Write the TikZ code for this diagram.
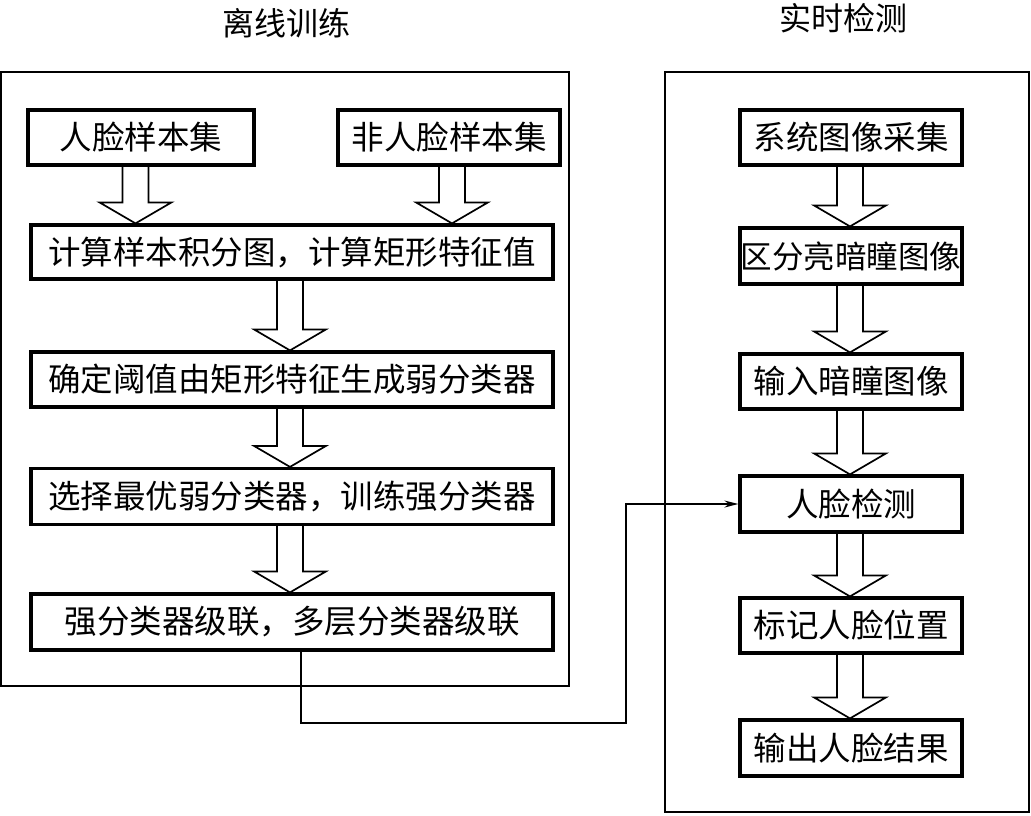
\documentclass[tikz,border=0pt]{standalone}
\usepackage{fontspec}
\newfontfamily\cjk{Noto Sans CJK SC}
\usetikzlibrary{arrows.meta,calc}
\tikzset{
  box/.style={draw, line width=3.2pt, inner sep=0pt, font=\cjk\fontsize{32.5}{32}\selectfont, anchor=center},
  frame/.style={draw, line width=1.6pt},
  blockarr/.style={draw, line width=1.7pt, line join=miter},
  link/.style={draw, line width=1.6pt, -{Stealth[length=14pt,width=7pt]}},
  title/.style={font=\cjk\fontsize{32}{32}\selectfont}
}
% #1 source node, #2 target node, #3 x position (pt)
\newcommand\blockarrow[3]{%
  \draw[blockarr] let \p1=(#1.south), \p2=(#2.north) in
    (#3pt-13pt,\y1) -- (#3pt-13pt,\y2+21pt) -- (#3pt-36pt,\y2+21pt) -- (#3pt,\y2)
    -- (#3pt+36pt,\y2+21pt) -- (#3pt+13pt,\y2+21pt) -- (#3pt+13pt,\y1);}
\begin{document}
\begin{tikzpicture}[x=1pt,y=-1pt]
\useasboundingbox (0,0) rectangle (1031,815);
% titles
\node[title] (t1) at (286,23) {离线训练};
\node[title] (t2) at (843,18) {实时检测};
% frames
\draw[frame] (1,72) rectangle (569,686);
\draw[frame] (665,72) rectangle (1029,812);
% left boxes
\node[box, minimum width=226pt, minimum height=55pt] (A) at (141,137.5) {人脸样本集};
\node[box, minimum width=222pt, minimum height=55pt] (B) at (449,137.5) {非人脸样本集};
\node[box, minimum width=522pt, minimum height=54pt] (C) at (292,252) {计算样本积分图，计算矩形特征值};
\node[box, minimum width=522pt, minimum height=55pt] (D) at (292,379.5) {确定阈值由矩形特征生成弱分类器};
\node[box, minimum width=522pt, minimum height=56pt] (E) at (292,496.5) {选择最优弱分类器，训练强分类器};
\node[box, minimum width=522pt, minimum height=56pt] (F) at (292,622) {强分类器级联，多层分类器级联};
% right boxes
\node[box, minimum width=222pt, minimum height=55pt] (G) at (851,137.5) {系统图像采集};
\node[box, minimum width=222pt, minimum height=56pt] (H) at (851,256) {\fontsize{31.5}{32}\selectfont 区分亮暗瞳图像};
\node[box, minimum width=222pt, minimum height=55pt] (I) at (851,381.5) {输入暗瞳图像};
\node[box, minimum width=222pt, minimum height=56pt] (J) at (851,504) {人脸检测};
\node[box, minimum width=222pt, minimum height=55pt] (K) at (851,625.5) {标记人脸位置};
\node[box, minimum width=222pt, minimum height=56pt] (L) at (851,748) {输出人脸结果};
% block arrows
\blockarrow{A}{C}{135.5}
\blockarrow{B}{C}{452}
\blockarrow{C}{D}{290}
\blockarrow{D}{E}{290}
\blockarrow{E}{F}{290}
\blockarrow{G}{H}{850}
\blockarrow{H}{I}{850}
\blockarrow{I}{J}{850}
\blockarrow{J}{K}{850}
\blockarrow{K}{L}{850}
% connector
\coordinate (c1) at (301,723);
\coordinate (c2) at (626,723);
\coordinate (c3) at (626,504);
\draw[link] (F.south -| c1) -- (c1) -- (c2) -- (c3) -- (J.west);
\end{tikzpicture}
\end{document}
